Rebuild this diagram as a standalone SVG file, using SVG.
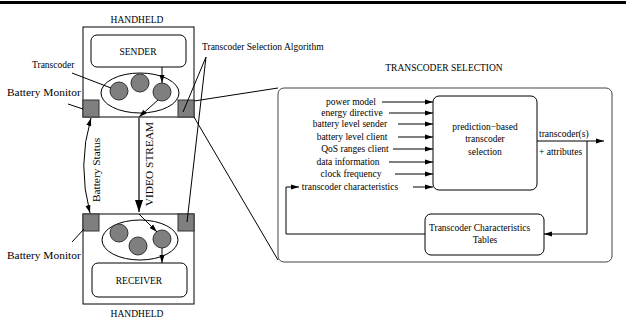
<svg xmlns="http://www.w3.org/2000/svg" width="626" height="322" viewBox="0 0 626 322">
<style>
text{font-family:"Liberation Serif","Times New Roman",serif;font-size:9.5px;fill:#000}
.big{font-size:11.4px}
.mid{text-anchor:middle}
.box{fill:#fff;stroke:#000;stroke-width:1}
.gbox{fill:#fff;stroke:#444;stroke-width:1}
.gray{fill:#7f7f7f;stroke:#333;stroke-width:1}
.ln{fill:none;stroke:#000;stroke-width:1}
.vs{fill:none;stroke:#666;stroke-width:2}
</style>
<defs>
<marker id="ah" markerUnits="userSpaceOnUse" markerWidth="8" markerHeight="6" refX="8" refY="3" orient="auto"><path d="M0,0.5 L8,3 L0,5.5 z" fill="#000"/></marker>
<marker id="ahs" markerUnits="userSpaceOnUse" markerWidth="8" markerHeight="6" refX="8" refY="3" orient="auto-start-reverse"><path d="M0,0.5 L8,3 L0,5.5 z" fill="#000"/></marker>
<marker id="bigah" markerUnits="userSpaceOnUse" markerWidth="12" markerHeight="8" refX="12" refY="4" orient="auto"><path d="M0,0 L12,4 L0,8 z" fill="#000"/></marker>
</defs>
<rect x="0" y="1" width="626" height="3" fill="#000"/>

<g id="handheld-top">
<text class="mid" x="137" y="23">HANDHELD</text>
<rect class="box" x="83" y="27" width="111" height="90"/>
<g id="sender">
<rect class="box" x="91" y="35" width="95" height="32" rx="6"/>
<text class="mid" x="138" y="55">SENDER</text>
</g>
<g id="transcoders-top">
<ellipse class="box" cx="140" cy="93" rx="39" ry="20"/>
<circle class="gray" cx="119" cy="91" r="9"/>
<circle class="gray" cx="140" cy="83" r="9"/>
<circle class="gray" cx="162" cy="92" r="9"/>
</g>
<rect id="battery-monitor-top" class="gray" x="83" y="100" width="16" height="17"/>
<rect id="tsa-top" class="gray" x="178" y="100" width="16" height="17"/>
</g>

<g id="handheld-bottom">
<text class="mid" x="137" y="317">HANDHELD</text>
<rect class="box" x="83" y="214" width="111" height="90"/>
<g id="receiver">
<rect class="box" x="92" y="263" width="95" height="34" rx="6"/>
<text class="mid" x="139" y="284">RECEIVER</text>
</g>
<g id="transcoders-bottom">
<ellipse class="box" cx="140" cy="240" rx="38" ry="20"/>
<circle class="gray" cx="119" cy="233" r="9"/>
<circle class="gray" cx="138" cy="246" r="9"/>
<circle class="gray" cx="162" cy="239" r="9"/>
</g>
<rect id="battery-monitor-bottom" class="gray" x="83" y="214" width="16" height="17"/>
<rect id="tsa-bottom" class="gray" x="178" y="214" width="16" height="17"/>
</g>

<g id="labels">
<text x="32" y="68">Transcoder</text>
<text class="big" x="7" y="96">Battery Monitor</text>
<text class="big" x="7" y="259">Battery Monitor</text>
<text x="202" y="50">Transcoder Selection Algorithm</text>
<text class="big mid" transform="translate(153,164) rotate(-90)">VIDEO STREAM</text>
<text class="big mid" transform="translate(100,170) rotate(-90)">Battery Status</text>
</g>

<g id="transcoder-selection">
<text class="mid" x="444" y="71">TRANSCODER SELECTION</text>
<rect class="gbox" x="278" y="88" width="334" height="174" rx="6"/>
<g id="prediction">
<rect class="box" x="433" y="96" width="104" height="94" rx="6"/>
<text class="mid" x="485" y="130">prediction−based</text>
<text class="mid" x="485" y="142">transcoder</text>
<text class="mid" x="485" y="155">selection</text>
</g>
<g id="tables">
<rect class="box" x="425" y="214" width="119" height="41" rx="6"/>
<text x="429" y="231">Transcoder Characteristics</text>
<text class="mid" x="485" y="243">Tables</text>
</g>
<g id="inputs">
<text class="mid" x="351" y="105">power model</text>
<text class="mid" x="352" y="116">energy directive</text>
<text class="mid" x="350" y="127">battery level sender</text>
<text class="mid" x="352" y="140">battery level client</text>
<text class="mid" x="355" y="152">QoS ranges client</text>
<text class="mid" x="348" y="165">data information</text>
<text class="mid" x="351" y="177">clock frequency</text>
<text class="mid" x="350" y="190">transcoder characteristics</text>
</g>
<text x="539" y="137">transcoder(s)</text>
<text x="539" y="155">+ attributes</text>
</g>

<g id="connectors">
<line class="ln" x1="162" y1="67" x2="162" y2="83" marker-end="url(#ah)"/>
<line class="ln" x1="72" y1="73" x2="111" y2="88"/>
<line class="ln" x1="68" y1="104" x2="83" y2="109"/>
<line class="ln" x1="72" y1="242" x2="84" y2="229"/>
<line class="ln" x1="158" y1="100" x2="139" y2="117" marker-end="url(#ah)"/>
<line class="vs" x1="139" y1="117" x2="139" y2="212" marker-end="url(#bigah)"/>
<line class="ln" x1="139" y1="214" x2="157" y2="232" marker-end="url(#ah)"/>
<line class="ln" x1="162" y1="248" x2="162" y2="263" marker-end="url(#ah)"/>
<path class="ln" d="M91,118 Q77,165 90,213" marker-start="url(#ahs)" marker-end="url(#ah)"/>
<line class="ln" x1="206" y1="57" x2="183" y2="112"/>
<line class="ln" x1="206" y1="57" x2="187" y2="222"/>
<line class="ln" x1="194" y1="101" x2="278" y2="88"/>
<line class="ln" x1="194" y1="117" x2="278" y2="260"/>
<line class="ln" x1="382" y1="102" x2="433" y2="102" marker-end="url(#ah)"/>
<line class="ln" x1="389" y1="113" x2="433" y2="113" marker-end="url(#ah)"/>
<line class="ln" x1="398" y1="124" x2="433" y2="124" marker-end="url(#ah)"/>
<line class="ln" x1="398" y1="137" x2="433" y2="137" marker-end="url(#ah)"/>
<line class="ln" x1="393" y1="149" x2="433" y2="149" marker-end="url(#ah)"/>
<line class="ln" x1="389" y1="162" x2="433" y2="162" marker-end="url(#ah)"/>
<line class="ln" x1="395" y1="174" x2="433" y2="174" marker-end="url(#ah)"/>
<line class="ln" x1="413" y1="187" x2="433" y2="187" marker-end="url(#ah)"/>
<line class="ln" x1="537" y1="141" x2="604" y2="141" marker-end="url(#ah)"/>
<path class="ln" d="M587,141 V234 H544" marker-end="url(#ah)"/>
<path class="ln" d="M425,234 H286 V187 H299" marker-end="url(#ah)"/>
</g>
</svg>
